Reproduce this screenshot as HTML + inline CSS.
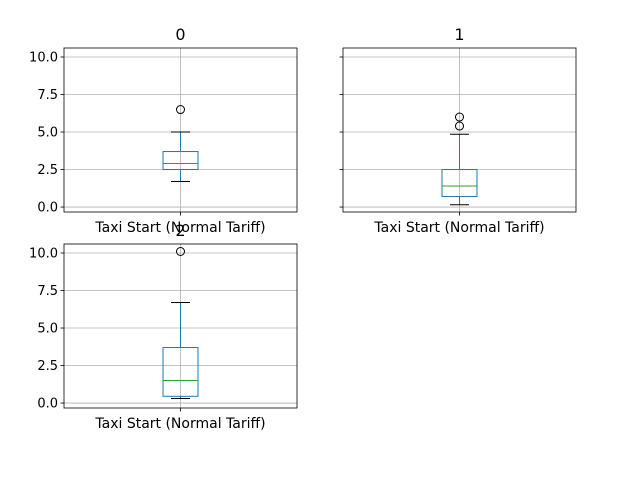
<!DOCTYPE html>
<html><head><meta charset="utf-8"><style>
body{margin:0;background:#fff}
svg text{font-family:"DejaVu Sans","Liberation Sans",sans-serif;fill:#000}
</style></head><body>
<svg id="chart" width="640" height="480" xmlns="http://www.w3.org/2000/svg"></svg>
<script>
const groupTitles = ["0","1","2"];
const q1s = [2.5, 0.7, 0.45];
const medians = [2.9, 1.4, 1.5];
const q3s = [3.7, 2.5, 3.7];
const whiskLows = [1.7, 0.15, 0.3];
const whiskHighs = [5.0, 4.85, 6.7];
const outliers = [[6.5],[5.4,6.0],[10.1]];
const yTicks = [0, 2.5, 5, 7.5, 10];
const yTickLabels = ["0.0","2.5","5.0","7.5","10.0"];
const xLabel = "Taxi Start (Normal Tariff)";

const NS="http://www.w3.org/2000/svg";
const svg=document.getElementById('chart');
function mk(tag,attrs,parent){const e=document.createElementNS(NS,tag);for(const k in attrs)e.setAttribute(k,attrs[k]);(parent||svg).appendChild(e);return e;}
const panels=[{x:64,y:48,left:true},{x:343,y:48,left:false},{x:64,y:244,left:true}];
const W=233,H=164,yMin=-0.33,yMax=10.6;
panels.forEach((p,i)=>{
  const g=mk('g',{});
  
  
  const ys=v=>p.y+H-(v-yMin)/(yMax-yMin)*H;
  const cx=p.x+W/2;
  yTicks.forEach((t,k)=>{
    const y=ys(t);
    mk('line',{x1:p.x,x2:p.x+W,y1:y,y2:y,stroke:'#b0b0b0','stroke-width':0.8},g);
    mk('line',{x1:p.x-3.5,x2:p.x,y1:y,y2:y,stroke:'#000','stroke-width':0.8},g);
    if(p.left){const t2=mk('text',{x:p.x-6,y:y+4.5,'text-anchor':'end','font-size':13},g);t2.textContent=yTickLabels[k];
      }
  });
  mk('line',{x1:cx,x2:cx,y1:p.y,y2:p.y+H,stroke:'#b0b0b0','stroke-width':0.8},g);
  mk('line',{x1:cx,x2:cx,y1:p.y+H,y2:p.y+H+3.5,stroke:'#000','stroke-width':0.8},g);
  const c='#1f77b4';
  mk('line',{x1:cx,x2:cx,y1:ys(whiskLows[i]),y2:ys(q1s[i]),stroke:c,'stroke-width':1},g);
  mk('line',{x1:cx,x2:cx,y1:ys(q3s[i]),y2:ys(whiskHighs[i]),stroke:c,'stroke-width':1},g);
  mk('line',{x1:cx-9.5,x2:cx+9.5,y1:ys(whiskLows[i]),y2:ys(whiskLows[i]),stroke:'#000','stroke-width':1},g);
  mk('line',{x1:cx-9.5,x2:cx+9.5,y1:ys(whiskHighs[i]),y2:ys(whiskHighs[i]),stroke:'#000','stroke-width':1},g);
  const box=mk('rect',{x:cx-17.5,y:ys(q3s[i]),width:35,height:ys(q1s[i])-ys(q3s[i]),fill:'none',stroke:c,'stroke-width':1},g);
  
  mk('line',{x1:cx-17.5,x2:cx+17.5,y1:ys(medians[i]),y2:ys(medians[i]),stroke:'#2ca02c','stroke-width':1},g);
  outliers[i].forEach(o=>{const e=mk('circle',{cx:cx,cy:ys(o),r:4,fill:'none',stroke:'#000','stroke-width':1},g);
    });
  mk('rect',{x:p.x,y:p.y,width:W,height:H,fill:'none',stroke:'#000','stroke-width':0.8},g);
  const xl=mk('text',{x:cx,y:p.y+H+20,'text-anchor':'middle','font-size':14},g);xl.textContent=xLabel;
  
  const tt=mk('text',{x:cx,y:p.y-8,'text-anchor':'middle','font-size':16},g);tt.textContent=groupTitles[i];
  
});
</script>
</body></html>
